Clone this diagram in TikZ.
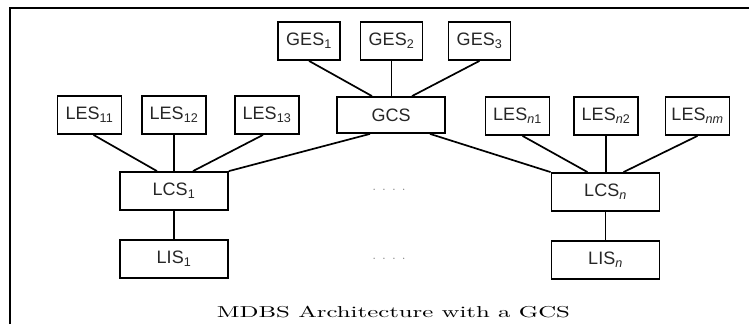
\documentclass[tikz,border=0pt]{standalone}
\usepackage{fontspec}
\newfontfamily\boxfont{Liberation Sans}
\usepackage{graphicx}
\begin{document}
\begin{tikzpicture}[x=1pt,y=1pt,
  lbl/.style={font=\boxfont\fontsize{18}{21}\selectfont, text=black!85},
  sbox/.style={lbl, draw, line width=1.8pt, minimum width=64pt, minimum height=38pt, inner sep=0pt},
  bbox/.style={sbox, minimum width=108pt},
  link/.style={line width=1.7pt},
  dotsnode/.style={font=\fontsize{14}{14}\selectfont, text=black!50, inner sep=0pt}]
\useasboundingbox (0,0) rectangle (749,324);
\draw[line width=2.4pt] (10,0) -- (10,316) -- (749,316);
% top row
\node[sbox, minimum width=62pt] (GES1) at (309,283) {GES\textsubscript{1}};
\node[sbox, minimum width=62pt] (GES2) at (391.5,283) {GES\textsubscript{2}};
\node[sbox, minimum width=62pt] (GES3) at (479.5,283) {GES\textsubscript{3}};
% middle row
\node[sbox] (LES11) at (89.5,209) {LES\textsubscript{11}};
\node[sbox] (LES12) at (174,209) {LES\textsubscript{12}};
\node[sbox] (LES13) at (267,209) {LES\textsubscript{13}};
\node[bbox, minimum height=36pt] (GCS) at (391,209) {GCS};
\node[sbox] (LESn1) at (517.5,208) {LES\textsubscript{\textit{n}1}};
\node[sbox] (LESn2) at (606,208) {LES\textsubscript{\textit{n}2}};
\node[sbox] (LESnm) at (697.5,208) {LES\textsubscript{\textit{nm}}};
% lower rows
\node[bbox] (LCS1) at (174,133) {LCS\textsubscript{1}};
\node[bbox] (LIS1) at (174,65) {LIS\textsubscript{1}};
\node[bbox] (LCSn) at (605.5,132) {LCS\textsubscript{\textit{n}}};
\node[bbox] (LISn) at (605.5,64) {LIS\textsubscript{\textit{n}}};
\node[dotsnode] (dots1) at (389,134) {. . . .};
\node[dotsnode] (dots2) at (389,65) {. . . .};
% caption
\node[anchor=base, inner sep=0pt] (cap) at (393.5,7) {\resizebox{353pt}{11.3pt}{MDBS Architecture with a GCS}};
% links
\draw[link] (GES1.south) -- ([xshift=-19pt]GCS.north);
\draw[link] (GES2.south) -- ([xshift=0.5pt]GCS.north);
\draw[link] (GES3.south) -- ([xshift=21pt]GCS.north);
\draw[link] ([xshift=4pt]LES11.south) -- ([xshift=-17pt]LCS1.north);
\draw[link] (LES12.south) -- (LCS1.north);
\draw[link] ([xshift=-4pt]LES13.south) -- ([xshift=19pt]LCS1.north);
\draw[link] ([xshift=-21pt]GCS.south) -- (LCS1.north east);
\draw[link] ([xshift=39pt]GCS.south) -- (LCSn.north west);
\draw[link] ([xshift=5pt]LESn1.south) -- ([xshift=-18pt]LCSn.north);
\draw[link] (LESn2.south) -- ([xshift=0.5pt]LCSn.north);
\draw[link] (LESnm.south) -- ([xshift=18pt]LCSn.north);
\draw[link] (LCS1.south) -- (LIS1.north);
\draw[link] (LCSn.south) -- (LISn.north);
\end{tikzpicture}
\end{document}
